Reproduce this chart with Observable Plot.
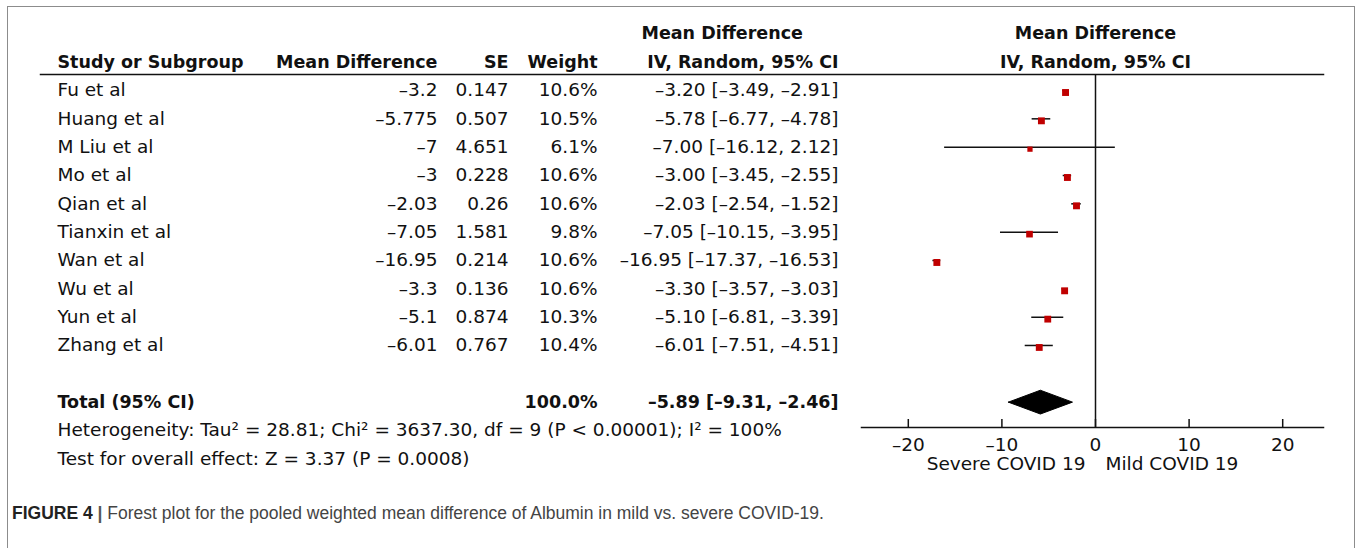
<!DOCTYPE html>
<html><head><meta charset="utf-8">
<script src="https://cdn.jsdelivr.net/npm/d3@7"></script>
<script src="https://cdn.jsdelivr.net/npm/@observablehq/plot@0.6"></script>
<style>
body{margin:0;background:#fff;}
#wrap{position:relative;width:1357px;height:548px;overflow:hidden;background:#fff;}
#border{position:absolute;left:7px;top:6px;width:1348px;height:620px;border:1.5px solid #8c8c8c;box-sizing:border-box;}
#chart{position:absolute;left:0;top:0;}
#caption{position:absolute;left:12px;top:503px;font-family:"Liberation Sans",Arial,sans-serif;font-size:17.5px;color:#444;white-space:nowrap;}
#caption b{color:#222;}
</style></head>
<body>
<div id="wrap"><div id="border"></div><div id="chart"></div>
<div id="caption"><b>FIGURE 4</b> <b style="color:#555">|</b> Forest plot for the pooled weighted mean difference of Albumin in mild vs. severe COVID-19.</div>
</div>
<script>
// ---- data ----
const studies = ["Fu et al","Huang et al","M Liu et al","Mo et al","Qian et al","Tianxin et al","Wan et al","Wu et al","Yun et al","Zhang et al"];
const meanDiff = [-3.2, -5.775, -7, -3, -2.03, -7.05, -16.95, -3.3, -5.1, -6.01];
const seValues = ["0.147","0.507","4.651","0.228","0.26","1.581","0.214","0.136","0.874","0.767"];
const weights = [10.6, 10.5, 6.1, 10.6, 10.6, 9.8, 10.6, 10.6, 10.3, 10.4];
const estimates = [-3.20, -5.78, -7.00, -3.00, -2.03, -7.05, -16.95, -3.30, -5.10, -6.01];
const ciLow = [-3.49, -6.77, -16.12, -3.45, -2.54, -10.15, -17.37, -3.57, -6.81, -7.51];
const ciHigh = [-2.91, -4.78, 2.12, -2.55, -1.52, -3.95, -16.53, -3.03, -3.39, -4.51];
const totalEstimate = -5.89, totalLow = -9.31, totalHigh = -2.46;
const totalWeight = "100.0%";
const heterogeneity = "Heterogeneity: Tau² = 28.81; Chi² = 3637.30, df = 9 (P < 0.00001); I² = 100%";
const overallEffect = "Test for overall effect: Z = 3.37 (P = 0.0008)";
const tickValues = [-20, -10, 0, 10, 20];
const favoursLeft = "Severe COVID 19", favoursRight = "Mild COVID 19";

// ---- helpers ----
const m = v => String(v).replace("-", "\u2013");
const f2 = v => m(v.toFixed(2));
const ciText = (e, l, h) => `${f2(e)} [${f2(l)}, ${f2(h)}]`;

const rows = studies.map((s, i) => ({
  row: i, study: s, md: meanDiff[i], se: seValues[i], w: weights[i],
  est: estimates[i], lo: ciLow[i], hi: ciHigh[i]
}));
const totalRow = studies.length + 1;     // blank row then total
const hetRow = totalRow + 1, testRow = totalRow + 2;
const h = 0.42;
const diamond = [
  {x: totalLow, y: totalRow}, {x: totalEstimate, y: totalRow - h},
  {x: totalHigh, y: totalRow}, {x: totalEstimate, y: totalRow + h}, {x: totalLow, y: totalRow}
];

const FONT = "DejaVu Sans, Verdana, sans-serif";
const FS = 18.5, FSB = 17.5;
const W = 1357, H = 490;
const axisY = 427;
const rowPx = 28.33, firstRowPx = 90;
const txt = (data, opts) => Plot.text(data, {frameAnchor: "left", fontSize: FS, fill: "#111", ...opts});
const bold = (data, opts) => txt(data, {fontSize: FSB, fontWeight: "bold", ...opts});

const chart = Plot.plot({
  width: W, height: H,
  marginLeft: 0, marginRight: 34, marginTop: 74, marginBottom: H - axisY,
  style: {fontFamily: FONT, fontSize: FS + "px", background: "transparent", color: "#111"},
  x: {domain: [-25, 25], range: [861, 1329]},
  y: {domain: [-2, testRow], range: [firstRowPx - 2 * rowPx, firstRowPx + testRow * rowPx], axis: null},
  r: {type: "sqrt", domain: [0, d3.max(weights)], range: [0, 3.9]},
  marks: [
    // header
    bold(["Mean Difference"], {y: -2, dx: 641, textAnchor: "start"}),
    bold(["Study or Subgroup"], {y: -1, dx: 57, textAnchor: "start"}),
    bold(["Mean Difference"], {y: -1, dx: 437, textAnchor: "end"}),
    bold(["SE"], {y: -1, dx: 508, textAnchor: "end"}),
    bold(["Weight"], {y: -1, dx: 597, textAnchor: "end"}),
    bold(["IV, Random, 95% CI"], {y: -1, dx: 838, textAnchor: "end"}),
    Plot.text(["Mean Difference"], {x: 0, y: -2, fontSize: FSB, fontWeight: "bold", fill: "#111"}),
    Plot.text(["IV, Random, 95% CI"], {x: 0, y: -1, fontSize: FSB, fontWeight: "bold", fill: "#111"}),
    Plot.frame({anchor: "top", insetLeft: 40, stroke: "#111", strokeWidth: 1.5}),
    // study rows
    txt(rows, {y: "row", text: "study", dx: 57, textAnchor: "start"}),
    txt(rows, {y: "row", text: d => m(d.md), dx: 437, textAnchor: "end"}),
    txt(rows, {y: "row", text: "se", dx: 508, textAnchor: "end"}),
    txt(rows, {y: "row", text: d => d.w.toFixed(1) + "%", dx: 597, textAnchor: "end"}),
    txt(rows, {y: "row", text: d => ciText(d.est, d.lo, d.hi), dx: 838, textAnchor: "end"}),
    // total rows
    bold(["Total (95% CI)"], {y: totalRow, dx: 57, textAnchor: "start"}),
    bold([totalWeight], {y: totalRow, dx: 597, textAnchor: "end"}),
    bold([ciText(totalEstimate, totalLow, totalHigh)], {y: totalRow, dx: 838, textAnchor: "end"}),
    txt([heterogeneity], {y: hetRow, dx: 57, textAnchor: "start"}),
    txt([overallEffect], {y: testRow, dx: 57, textAnchor: "start"}),
    // forest
    Plot.ruleX([0], {stroke: "#111", strokeWidth: 1.5}),
    Plot.ruleY(rows, {y: "row", x1: "lo", x2: "hi", stroke: "#111", strokeWidth: 1.5}),
    Plot.dot(rows, {x: "est", y: "row", r: "w", symbol: "square", fill: "#c00000", stroke: "none", dy: 2}),
    Plot.line(diamond, {x: "x", y: "y", fill: "#000", stroke: "#000", strokeWidth: 1}),
    // axis
    Plot.frame({anchor: "bottom", insetLeft: 861, stroke: "#111", strokeWidth: 1.5}),
    Plot.axisX({anchor: "bottom", ticks: tickValues, tickSize: -8, tickPadding: 18, strokeWidth: 1.5, fontSize: FS, label: null, tickFormat: d => m(d), color: "#111"}),
    Plot.text([favoursLeft], {x: 0, frameAnchor: "bottom", dy: 42, dx: -10, textAnchor: "end", fontSize: FS, fill: "#111"}),
    Plot.text([favoursRight], {x: 0, frameAnchor: "bottom", dy: 42, dx: 10, textAnchor: "start", fontSize: FS, fill: "#111"})
  ]
});
document.getElementById("chart").appendChild(chart);
</script>
</body></html>
